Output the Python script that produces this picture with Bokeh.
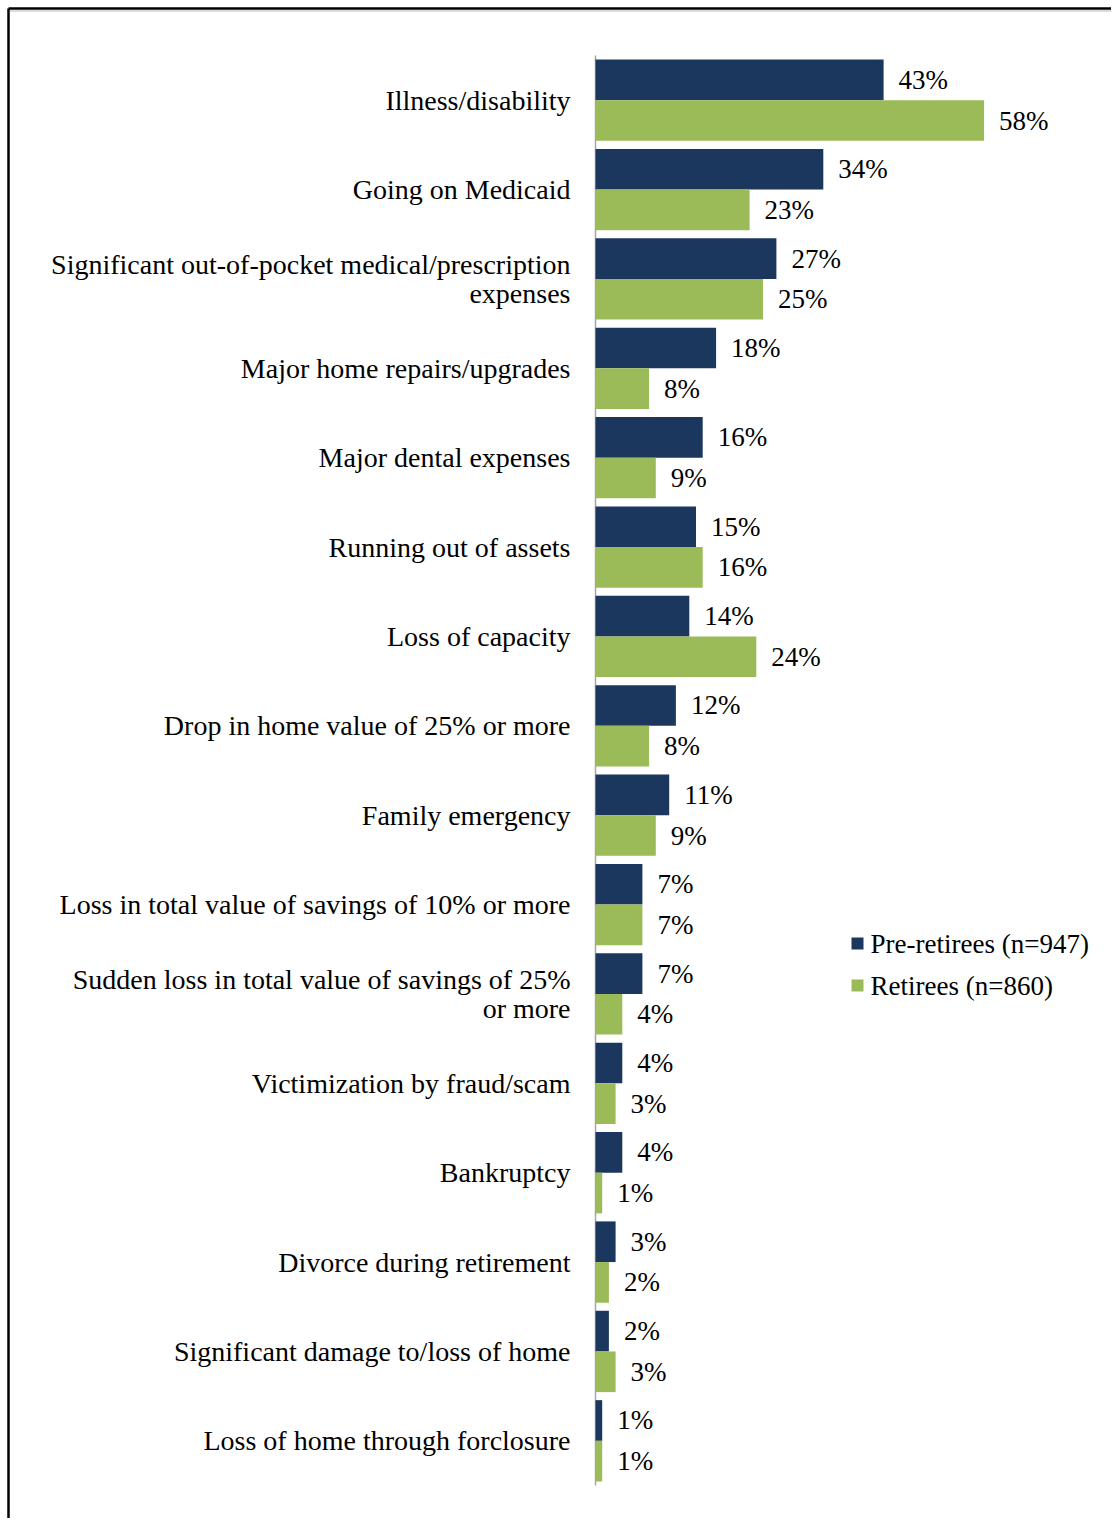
from bokeh.plotting import figure
from bokeh.models import Range1d, ColumnDataSource
from bokeh.core.properties import value
from bokeh.embed import file_html
from bokeh.resources import INLINE

categories = [
    "Illness/disability",
    "Going on Medicaid",
    "Significant out-of-pocket medical/prescription\nexpenses",
    "Major home repairs/upgrades",
    "Major dental expenses",
    "Running out of assets",
    "Loss of capacity",
    "Drop in home value of 25% or more",
    "Family emergency",
    "Loss in total value of savings of 10% or more",
    "Sudden loss in total value of savings of 25%\nor more",
    "Victimization by fraud/scam",
    "Bankruptcy",
    "Divorce during retirement",
    "Significant damage to/loss of home",
    "Loss of home through forclosure",
]
pre_retirees = [43, 34, 27, 18, 16, 15, 14, 12, 11, 7, 7, 4, 4, 3, 2, 1]
retirees = [58, 23, 25, 8, 9, 16, 24, 8, 9, 7, 4, 3, 1, 2, 3, 1]
series_names = ["Pre-retirees (n=947)", "Retirees (n=860)"]

NAVY = "#1B375E"
GREEN = "#9BBB59"
FONT = "Liberation Serif, Times New Roman, serif"

W, H = 1111, 1518
PX_PER_PCT = 6.7
AXIS_PX = 595          # canvas x of the zero line
TOP_PX = 55            # canvas y of the first band's top
BAND_PX = 89.375

def xd(px):  # canvas px -> data x
    return (px - AXIS_PX) / PX_PER_PCT

def yd(py):  # canvas px -> data y (band units, downward)
    return (py - TOP_PX) / BAND_PX

p = figure(width=W, height=H, output_backend="svg", toolbar_location=None,
           x_range=Range1d(xd(0), xd(W)), y_range=Range1d(yd(H), yd(0)),
           x_axis_location=None, y_axis_location=None, min_border=0,
           outline_line_color=None, background_fill_color="white",
           border_fill_color="white")
p.grid.grid_line_color = None

n = len(categories)
h = 0.455
idx = list(range(n))
y_pre = [i + 0.5 - h / 2 for i in idx]
y_ret = [i + 0.5 + h / 2 for i in idx]

src = ColumnDataSource(dict(
    cat=categories, y=[i + 0.5 for i in idx],
    pre=pre_retirees, ret=retirees, y_pre=y_pre, y_ret=y_ret,
    pre_lbl=[f"{v}%" for v in pre_retirees], ret_lbl=[f"{v}%" for v in retirees],
    zero=[0] * n,
))

# outer border (top and left)
p.segment(x0=[xd(8), xd(8)], y0=[yd(8), yd(8)], x1=[xd(W + 5), xd(8)], y1=[yd(8), yd(H + 5)],
          line_color="black", line_width=2.5)
p.segment(x0=[xd(9.5)], y0=[yd(10.5)], x1=[xd(W + 5)], y1=[yd(10.5)],
          line_color="#B8B8B8", line_width=1)

# zero axis line
p.segment(x0=[0], y0=[0], x1=[0], y1=[n], line_color="#A6A6A6", line_width=1.5)

p.hbar(y="y_pre", left=0, right="pre", height=h, source=src, fill_color=NAVY, line_color=None)
p.hbar(y="y_ret", left=0, right="ret", height=h, source=src, fill_color=GREEN, line_color=None)

# value labels
p.text(x="pre", y="y_pre", text="pre_lbl", source=src, x_offset=15, text_align="left",
       text_baseline="middle", text_font=value(FONT), text_font_size="27px", text_color="black")
p.text(x="ret", y="y_ret", text="ret_lbl", source=src, x_offset=15, text_align="left",
       text_baseline="middle", text_font=value(FONT), text_font_size="27px", text_color="black")

# category labels
p.text(x="zero", y="y", text="cat", source=src, x_offset=-25, text_align="right",
       text_baseline="middle", text_font=value(FONT), text_font_size="28px",
       text_line_height=0.92, text_color="black")

# legend
leg_y = [yd(943), yd(985)]
p.scatter(x=[xd(857)] * 2, y=leg_y, marker="square", size=12,
          fill_color=[NAVY, GREEN], line_color=None)
p.text(x=[xd(870)] * 2, y=leg_y, text=series_names, text_align="left",
       text_baseline="middle", text_font=value(FONT), text_font_size="27px", text_color="black")

open("out.html", "w").write(file_html(p, INLINE))
